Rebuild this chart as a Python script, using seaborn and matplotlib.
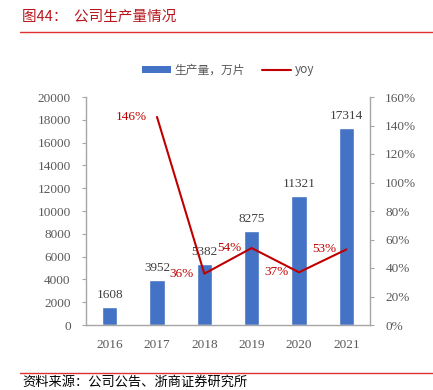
import numpy as np
import pandas as pd
import matplotlib
matplotlib.use("Agg")
import matplotlib.pyplot as plt
import seaborn as sns
from matplotlib.patches import Patch
from matplotlib.lines import Line2D

years = ["2016", "2017", "2018", "2019", "2020", "2021"]
output = [1608, 3952, 5382, 8275, 11321, 17314]
yoy_years = ["2017", "2018", "2019", "2020", "2021"]
yoy = [146, 36, 54, 37, 53]

BLUE = "#4472C4"
RED = "#C00000"
TXT = "#595959"
AXC = "#A6A6A6"
TITLE_RED = "#B8161C"

sns.set_theme(style="white")
plt.rcParams["font.family"] = ["Liberation Serif", "Noto Sans CJK SC", "DejaVu Sans"]
CJK = ["Noto Sans CJK SC", "DejaVu Sans"]

fig = plt.figure(figsize=(4.33, 3.90), dpi=100)
ax = fig.add_axes([86 / 433, 1 - 325 / 390, 284 / 433, 228 / 390])

df = pd.DataFrame({"year": years, "output": output})
sns.barplot(data=df, x="year", y="output", color=BLUE, width=0.32,
            saturation=1, ax=ax)
ax.set_ylim(0, 20000)
ax.set_xlim(-0.5, len(years) - 0.5)
ax.set_yticks(np.arange(0, 20001, 2000))
ax.set_xlabel("")
ax.set_ylabel("")

for i, v in enumerate(output):
    ax.text(i, v + 500, str(v), ha="center", va="bottom", fontsize=9.5, color="#404040")

ax2 = ax.twinx()
yoy_df = pd.DataFrame({"pos": [years.index(y) for y in yoy_years], "yoy": yoy})
sns.lineplot(data=yoy_df, x="pos", y="yoy", color=RED, linewidth=1.5, ax=ax2)
ax2.set_ylim(0, 160)
ax2.set_yticks(np.arange(0, 161, 20))
ax2.set_yticklabels([f"{t}%" for t in range(0, 161, 20)])
ax2.set_xlim(-0.5, len(years) - 0.5)
ax2.set_ylabel("")
ax2.set_xlabel("")

for p, v in zip(yoy_df["pos"], yoy):
    ax2.text(p - 0.22, v, f"{v}%", ha="right", va="center", fontsize=9.5, color=RED)

for a in (ax, ax2):
    a.spines["top"].set_visible(False)
    for s in ("left", "right", "bottom"):
        a.spines[s].set_color(AXC)
        a.spines[s].set_linewidth(1.0)
    a.tick_params(colors=TXT, labelsize=9.5, length=3, width=0.8)
    a.tick_params(axis="y", color=AXC)

ax.spines["right"].set_visible(False)
ax2.spines["left"].set_visible(False)
ax2.spines["bottom"].set_visible(False)
ax.set_xticks(np.arange(len(years)))
ax.set_xticklabels(years)
ax.tick_params(axis="x", length=0, pad=10)
ax.set_xticks(np.arange(-0.5, len(years), 1), minor=True)
ax.tick_params(axis="x", which="minor", length=4, color=AXC, width=0.8)
ax.tick_params(axis="y", direction="out", pad=8)
ax2.tick_params(axis="y", direction="out", pad=8)

# legend
handles = [Patch(facecolor=BLUE, edgecolor="none"),
           Line2D([0], [0], color=RED, linewidth=1.5)]
leg = fig.legend(handles, ["生产量，万片", "yoy"], loc="center",
                 bbox_to_anchor=(228 / 433, 1 - 70 / 390), ncol=2, frameon=False,
                 prop={"family": CJK, "size": 8.5}, handlelength=2.5,
                 handleheight=0.5, columnspacing=1.4, handletextpad=0.3)
for t in leg.get_texts():
    t.set_color(TXT)

# title and footer
fig.text(22 / 433, 1 - 17 / 390, "图44：  公司生产量情况", color=TITLE_RED,
         fontsize=10.5, family=CJK, va="center", ha="left")
fig.add_artist(Line2D([20 / 433, 1], [1 - 32 / 390] * 2, color="#E03030", linewidth=1.0))
fig.add_artist(Line2D([20 / 433, 1], [1 - 373 / 390] * 2, color="#E03030", linewidth=1.0))
fig.text(22 / 433, 1 - 382 / 390, "资料来源：公司公告、浙商证券研究所", color="black",
         fontsize=9.5, family=CJK, va="center", ha="left")

fig.savefig("out.png", dpi=100)
